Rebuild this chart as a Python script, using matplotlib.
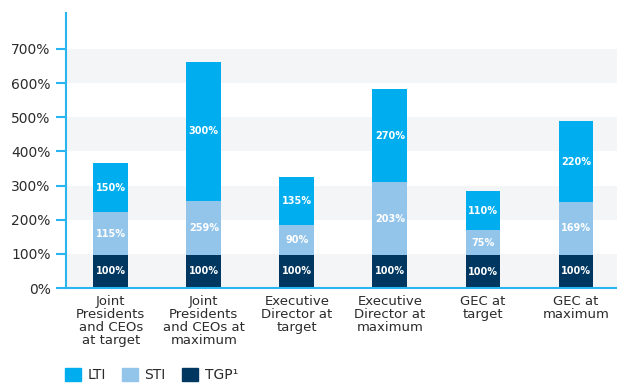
import numpy as np
import matplotlib
matplotlib.use("Agg")
import matplotlib.pyplot as plt
from matplotlib.patches import Patch

categories = ["Joint\nPresidents\nand CEOs\nat target",
              "Joint\nPresidents\nand CEOs at\nmaximum",
              "Executive\nDirector at\ntarget",
              "Executive\nDirector at\nmaximum",
              "GEC at\ntarget",
              "GEC at\nmaximum"]
# printed labels
tgp_labels = [100, 100, 100, 100, 100, 100]
sti_labels = [115, 259, 90, 203, 75, 169]
lti_labels = [150, 300, 135, 270, 110, 220]
# segment heights as drawn in the source graphic (they don't all match the labels)
tgp = [97, 98, 97, 97, 96, 97]
sti = [125, 156, 88, 212, 73, 155]
lti = [144, 409, 141, 273, 115, 236]
yticks = [0, 100, 200, 300, 400, 500, 600, 700]

c_lti = "#00aeef"
c_sti = "#93c5eb"
c_tgp = "#003761"
c_axis = "#29b6f0"
c_text = "#2b2b2b"

plt.rcParams['font.family'] = ['DejaVu Sans']

fig = plt.figure(figsize=(6.17, 3.83), dpi=100)
ax = fig.add_axes([0.107, 0.248, 0.893, 0.718])

# alternating background bands
for i in range(0, 700, 200):
    ax.axhspan(i, i + 100, color="#f4f5f7", zorder=0, lw=0)

x = np.arange(len(categories))
w = 0.375
tgp = np.array(tgp)
sti = np.array(sti)
lti = np.array(lti)

segs = [(tgp, np.zeros(len(x)), c_tgp, tgp_labels),
        (sti, tgp, c_sti, sti_labels),
        (lti, tgp + sti, c_lti, lti_labels)]
for vals, bottom, col, labs in segs:
    ax.bar(x, vals, w, bottom=bottom, color=col, zorder=2)
    for xi, v, b, lab in zip(x, vals, bottom, labs):
        ax.text(xi, b + v / 2, f"{lab}%", ha="center", va="center",
                color="white", fontsize=7, fontweight="semibold", zorder=3)

ax.set_xlim(-0.48, 5.44)
ax.set_ylim(0, 805)
ax.set_yticks(yticks)
ax.set_yticklabels([f"{t}%" for t in yticks])
ax.set_xticks(x)
ax.set_xticklabels(categories, fontsize=9.5, color=c_text, linespacing=1.0)

for s in ["top", "right"]:
    ax.spines[s].set_visible(False)
for s in ["left", "bottom"]:
    ax.spines[s].set_color(c_axis)
    ax.spines[s].set_linewidth(1.5)
ax.tick_params(axis="y", colors=c_axis, length=7, width=1.5, labelsize=10,
               labelcolor=c_text, pad=4)
ax.tick_params(axis="x", length=0, pad=5)

handles = [Patch(color=c_lti, label="LTI"),
           Patch(color=c_sti, label="STI"),
           Patch(color=c_tgp, label="TGP¹")]
fig.legend(handles=handles, loc="lower left", bbox_to_anchor=(0.085, -0.03),
           ncol=3, frameon=False, fontsize=10, handlelength=1.15, handleheight=1.1,
           handletextpad=0.45, columnspacing=1.2, labelcolor=c_text)

fig.savefig("out.png", dpi=100)
